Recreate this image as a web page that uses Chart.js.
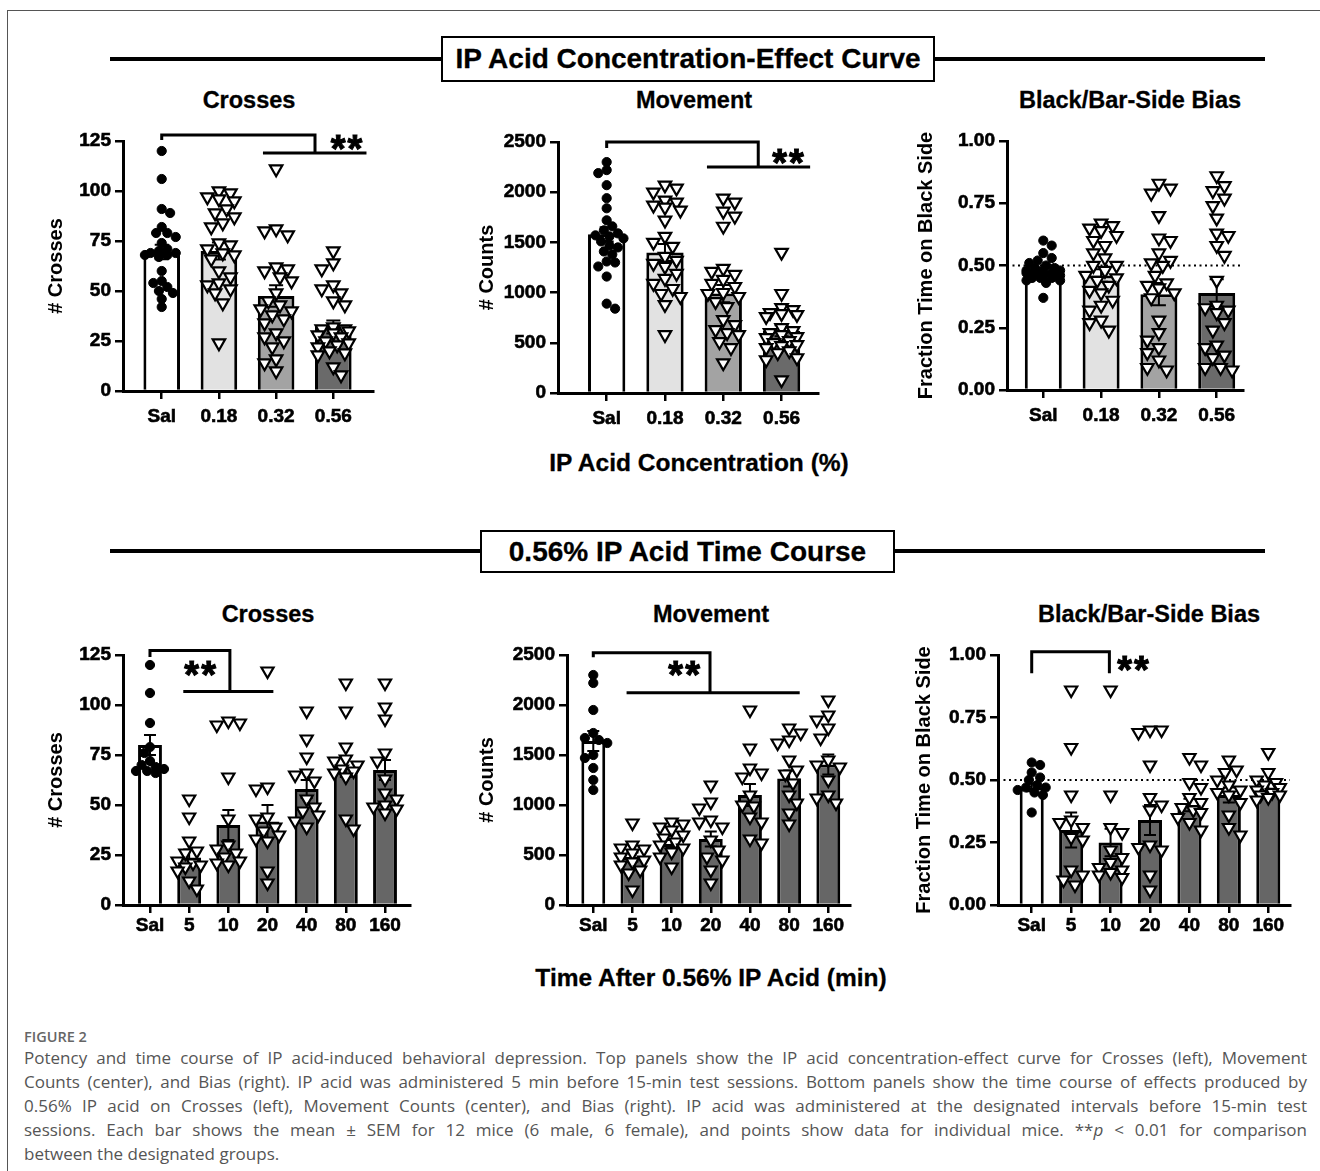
<!DOCTYPE html>
<html>
<head>
<meta charset="utf-8">
<script src="https://cdn.jsdelivr.net/npm/chart.js@4.4.1/dist/chart.umd.min.js"></script>
<style>
  body { margin: 0; background: #fff; width: 1320px; height: 1171px; position: relative; overflow: hidden;
         font-family: 'Liberation Sans', Arial, sans-serif; }
  .frame { position: absolute; left: 7px; top: 10px; width: 1330px; height: 1180px;
           border-top: 1.5px solid #555; border-left: 1.5px solid #555; }
  .rule { position: absolute; left: 110px; width: 1155px; height: 4px; background: #000; }
  .boxTitle { position: absolute; box-sizing: border-box; border: 2px solid #000; background: #fff;
              font-weight: bold; font-size: 28px; display: flex; align-items: center; justify-content: center;
              -webkit-text-stroke: 0.3px #000; }
  .lbl { position: absolute; transform: translate(-50%, -50%); font-weight: bold; white-space: nowrap; color: #000;
         -webkit-text-stroke: 0.3px #000; }
  .panelTitle { font-size: 23.5px; }
  .axisTitle { font-size: 24.5px; }
  canvas { position: absolute; }
  .figHead { position: absolute; left: 24px; top: 1027px; font-family: 'Open Sans', sans-serif; font-weight: 600;
             font-size: 14.5px; color: #666; }
  .capLine { position: absolute; left: 24px; font-family: 'Open Sans', sans-serif; font-size: 17px; color: #555;
             white-space: nowrap; line-height: 24px; }
</style>
</head>
<body>
<div class="frame"></div>

<div class="rule" style="top:57px"></div>
<div class="boxTitle" style="left:441px; top:36px; width:494px; height:46px;">IP Acid Concentration-Effect Curve</div>
<div class="lbl panelTitle" style="left:249px; top:100px;">Crosses</div>
<div class="lbl panelTitle" style="left:694px; top:100px;">Movement</div>
<div class="lbl panelTitle" style="left:1130px; top:100px;">Black/Bar-Side Bias</div>
<div class="lbl axisTitle" style="left:699px; top:463px;">IP Acid Concentration (%)</div>

<div class="rule" style="top:549px"></div>
<div class="boxTitle" style="left:480px; top:530px; width:415px; height:43px;">0.56% IP Acid Time Course</div>
<div class="lbl panelTitle" style="left:268px; top:614px;">Crosses</div>
<div class="lbl panelTitle" style="left:711px; top:614px;">Movement</div>
<div class="lbl panelTitle" style="left:1149px; top:614px;">Black/Bar-Side Bias</div>
<div class="lbl axisTitle" style="left:711px; top:978px;">Time After 0.56% IP Acid (min)</div>

<div class="figHead">FIGURE 2</div>
<div class="capLine" style="top:1046px">Potency and time course of IP acid-induced behavioral depression. Top panels show the IP acid concentration-effect curve for Crosses (left), Movement</div>
<div class="capLine" style="top:1070px">Counts (center), and Bias (right). IP acid was administered 5 min before 15-min test sessions. Bottom panels show the time course of effects produced by</div>
<div class="capLine" style="top:1094px">0.56% IP acid on Crosses (left), Movement Counts (center), and Bias (right). IP acid was administered at the designated intervals before 15-min test</div>
<div class="capLine" style="top:1118px">sessions. Each bar shows the mean ± SEM for 12 mice (6 male, 6 female), and points show data for individual mice. **<i>p</i> &lt; 0.01 for comparison</div>
<div class="capLine last" style="top:1142px">between the designated groups.</div>

<script>
// ========================================
// Data
// ========================================

const doseLabels = ['Sal', '0.18', '0.32', '0.56'];
const timeLabels = ['Sal', '5', '10', '20', '40', '80', '160'];

const crossTicks = [0, 25, 50, 75, 100, 125];
const countTicks = [0, 500, 1000, 1500, 2000, 2500];
const biasTicks = [0, 0.25, 0.5, 0.75, 1];

// Top row - concentration-effect curve
const doseCrossMean = [69.5, 70, 47.5, 32];
const doseCrossSem = [3.6, 4.2, 5.4, 3.2];
const doseCrossSal = [120, 106, 91, 89, 82, 79, 79, 77, 74, 71, 70, 69, 69, 68, 68, 67, 60, 55, 54, 52, 50, 49, 46, 42];
const doseCross018 = [100, 99, 97, 96, 95, 91, 89, 87, 84, 82, 74, 73, 71, 69, 68, 66, 60, 57, 54, 53, 51, 49, 44, 24];
const doseCross032 = [111, 81, 80, 78, 62, 61, 60, 57, 55, 49, 45, 43, 41, 40, 38, 36, 34, 29, 27, 25, 22, 16, 14, 10];
const doseCross056 = [70, 64, 61, 53, 51, 49, 45, 43, 32, 31, 31, 30, 29, 28, 27, 25, 24, 23, 22, 20, 19, 18, 12, 8];

const doseCountMean = [1580, 1400, 990, 620];
const doseCountSem = [70, 85, 85, 55];
const doseCountSal = [2300, 2220, 2190, 2070, 1940, 1840, 1720, 1660, 1620, 1590, 1570, 1560, 1540, 1510, 1470, 1450, 1410, 1380, 1310, 1300, 1260, 1160, 890, 840];
const doseCount018 = [2070, 2040, 2000, 1920, 1900, 1870, 1850, 1820, 1720, 1560, 1500, 1460, 1360, 1320, 1290, 1260, 1190, 1140, 1090, 1040, 990, 960, 880, 580];
const doseCount032 = [1940, 1900, 1810, 1760, 1660, 1240, 1210, 1180, 1130, 1090, 1060, 1000, 990, 960, 910, 860, 730, 680, 630, 600, 580, 510, 450, 300];
const doseCount056 = [1400, 990, 850, 830, 800, 790, 780, 760, 650, 620, 600, 580, 560, 550, 520, 500, 480, 470, 450, 420, 400, 350, 330, 130];

const doseBiasMean = [0.48, 0.46, 0.385, 0.39];
const doseBiasSem = [0.012, 0.025, 0.045, 0.055];
const doseBiasSal = [0.60, 0.58, 0.55, 0.53, 0.52, 0.51, 0.50, 0.49, 0.49, 0.48, 0.48, 0.48, 0.47, 0.47, 0.47, 0.46, 0.46, 0.45, 0.45, 0.45, 0.44, 0.44, 0.43, 0.37];
const doseBias018 = [0.67, 0.66, 0.65, 0.64, 0.62, 0.60, 0.58, 0.55, 0.53, 0.50, 0.50, 0.48, 0.46, 0.45, 0.44, 0.42, 0.40, 0.39, 0.36, 0.34, 0.32, 0.28, 0.27, 0.24];
const doseBias032 = [0.83, 0.81, 0.79, 0.70, 0.61, 0.60, 0.55, 0.52, 0.51, 0.50, 0.46, 0.43, 0.42, 0.41, 0.39, 0.37, 0.28, 0.23, 0.20, 0.17, 0.15, 0.12, 0.09, 0.08];
const doseBias056 = [0.86, 0.82, 0.80, 0.77, 0.74, 0.69, 0.63, 0.62, 0.58, 0.54, 0.44, 0.34, 0.33, 0.32, 0.31, 0.27, 0.24, 0.18, 0.17, 0.14, 0.13, 0.09, 0.09, 0.08];

// Bottom row - time course of 0.56% IP acid
const timeCrossMean = [80, 23.8, 40, 41.7, 58, 69, 67.5];
const timeCrossSem = [5, 4, 7.5, 8.3, 4.5, 5, 5];
const timeCrossSal = [120, 106, 91, 79, 76, 72, 70, 69, 68, 67, 67, 66];
const timeCross5 = [53, 44, 32, 27, 26, 22, 21, 20, 19, 17, 12, 8];
const timeCross10 = [92, 91, 90, 64, 43, 30, 28, 26, 24, 22, 21, 20];
const timeCross20 = [117, 59, 58, 44, 43, 39, 37, 35, 33, 32, 17, 11];
const timeCross40 = [97, 83, 74, 66, 65, 62, 53, 49, 47, 45, 42, 39];
const timeCross80 = [111, 97, 79, 73, 72, 70, 68, 67, 66, 64, 43, 38];
const timeCross160 = [111, 99, 93, 76, 72, 63, 56, 53, 50, 49, 48, 46];

const timeCountMean = [1640, 480, 610, 660, 1100, 1265, 1405];
const timeCountSem = [100, 45, 40, 75, 110, 80, 100];
const timeCountSal = [2300, 2220, 1950, 1720, 1670, 1650, 1620, 1500, 1470, 1370, 1250, 1150];
const timeCount5 = [820, 600, 570, 560, 520, 480, 450, 430, 400, 350, 320, 150];
const timeCount10 = [830, 810, 780, 750, 700, 670, 630, 600, 570, 530, 480, 380];
const timeCount20 = [1200, 1030, 970, 850, 830, 780, 650, 550, 480, 450, 350, 220];
const timeCount40 = [1950, 1570, 1370, 1320, 1280, 1100, 1000, 990, 880, 830, 660, 620];
const timeCount80 = [1770, 1720, 1650, 1620, 1450, 1350, 1310, 1220, 1100, 1020, 920, 810];
const timeCount160 = [2050, 1900, 1850, 1770, 1670, 1450, 1400, 1380, 1250, 1100, 1070, 1020];

const timeBiasMean = [0.47, 0.30, 0.25, 0.34, 0.40, 0.44, 0.47];
const timeBiasSem = [0.015, 0.07, 0.055, 0.06, 0.025, 0.03, 0.02];
const timeBiasSal = [0.57, 0.56, 0.53, 0.51, 0.50, 0.48, 0.47, 0.47, 0.46, 0.45, 0.44, 0.37];
const timeBias5 = [0.86, 0.63, 0.44, 0.34, 0.33, 0.31, 0.27, 0.26, 0.14, 0.12, 0.10, 0.08];
const timeBias10 = [0.86, 0.44, 0.31, 0.29, 0.22, 0.19, 0.17, 0.15, 0.14, 0.13, 0.12, 0.11];
const timeBias20 = [0.70, 0.70, 0.69, 0.56, 0.43, 0.40, 0.38, 0.24, 0.23, 0.22, 0.12, 0.06];
const timeBias40 = [0.59, 0.56, 0.49, 0.47, 0.43, 0.41, 0.39, 0.38, 0.37, 0.35, 0.33, 0.30];
const timeBias80 = [0.58, 0.54, 0.53, 0.50, 0.48, 0.46, 0.45, 0.44, 0.41, 0.36, 0.31, 0.28];
const timeBias160 = [0.61, 0.53, 0.50, 0.49, 0.48, 0.47, 0.46, 0.45, 0.44, 0.44, 0.43, 0.42];

// ========================================
// Styles
// ========================================
const FONT = "'Liberation Sans', Arial, sans-serif";
Chart.defaults.font.family = FONT;
Chart.defaults.color = '#000';

const doseColors = ['#ffffff', '#e2e2e2', '#a3a3a3', '#6a6a6a'];
const timeColors = ['#ffffff', '#666666', '#666666', '#666666', '#666666', '#666666', '#666666'];

const fmtInt = v => String(v);
const fmt2 = v => v.toFixed(2);

// chart area box (page px), x range in category units, significance bracket in data units
const panels = [
  { cats: doseLabels, colors: doseColors, means: doseCrossMean, sem: doseCrossSem,
    pts: [doseCrossSal, doseCross018, doseCross032, doseCross056],
    yTicks: crossTicks, yMax: 125, fmt: fmtInt, yTitle: '# Crosses',
    box: { l: 123, r: 373, t: 141, b: 391 }, xMin: -0.677, xMax: 3.694, titleX: 56,
    labelPad: 6, barPct: 0.64, tri: 7.2, spread: 0.33, cap: 7,
    bracket: [[[0, 125.5], [0, 128], [2.68, 128], [2.68, 119]], [[1.77, 119], [3.58, 119]]], star: [3.23, 124.5] },
  { cats: doseLabels, colors: doseColors, means: doseCountMean, sem: doseCountSem,
    pts: [doseCountSal, doseCount018, doseCount032, doseCount056],
    yTicks: countTicks, yMax: 2500, fmt: fmtInt, yTitle: '# Counts',
    box: { l: 558, r: 818, t: 142, b: 393 }, xMin: -0.835, xMax: 3.625, titleX: 487,
    labelPad: 6, barPct: 0.64, tri: 7.2, spread: 0.33, cap: 7,
    bracket: [[[0, 2440], [0, 2500], [2.6, 2500], [2.6, 2250]], [[1.72, 2250], [3.49, 2250]]], star: [3.11, 2360] },
  { cats: doseLabels, colors: doseColors, means: doseBiasMean, sem: doseBiasSem,
    pts: [doseBiasSal, doseBias018, doseBias032, doseBias056],
    yTicks: biasTicks, yMax: 1, fmt: fmt2, yTitle: 'Fraction Time on Black Side',
    box: { l: 1007, r: 1243, t: 141, b: 390 }, xMin: -0.628, xMax: 3.455, titleX: 926,
    labelPad: 6, barPct: 0.64, tri: 7.2, spread: 0.33, cap: 7, refLine: 0.5 },
  { cats: timeLabels, colors: timeColors, means: timeCrossMean, sem: timeCrossSem,
    pts: [timeCrossSal, timeCross5, timeCross10, timeCross20, timeCross40, timeCross80, timeCross160],
    yTicks: crossTicks, yMax: 125, fmt: fmtInt, yTitle: '# Crosses',
    box: { l: 123, r: 410, t: 655, b: 905 }, xMin: -0.689, xMax: 6.638, titleX: 56,
    labelPad: 1, barPct: 0.61, tri: 7, spread: 0.38, cap: 6,
    bracket: [[[0, 124], [0, 127.2], [2.04, 127.2], [2.04, 106.7]], [[0.85, 106.7], [3.15, 106.7]]], star: [1.28, 118.5] },
  { cats: timeLabels, colors: timeColors, means: timeCountMean, sem: timeCountSem,
    pts: [timeCountSal, timeCount5, timeCount10, timeCount20, timeCount40, timeCount80, timeCount160],
    yTicks: countTicks, yMax: 2500, fmt: fmtInt, yTitle: '# Counts',
    box: { l: 567, r: 850, t: 655, b: 905 }, xMin: -0.671, xMax: 6.554, titleX: 487,
    labelPad: 1, barPct: 0.61, tri: 7, spread: 0.38, cap: 6,
    bracket: [[[0, 2477], [0, 2523], [2.98, 2523], [2.98, 2123]], [[0.85, 2123], [5.27, 2123]]], star: [2.32, 2370] },
  { cats: timeLabels, colors: timeColors, means: timeBiasMean, sem: timeBiasSem,
    pts: [timeBiasSal, timeBias5, timeBias10, timeBias20, timeBias40, timeBias80, timeBias160],
    yTicks: biasTicks, yMax: 1, fmt: fmt2, yTitle: 'Fraction Time on Black Side',
    box: { l: 998, r: 1290, t: 655, b: 905 }, xMin: -0.855, xMax: 6.551, titleX: 924,
    labelPad: 1, barPct: 0.61, tri: 7, spread: 0.38, cap: 6, refLine: 0.5,
    bracket: [[[0, 0.927], [0, 1.013], [1.97, 1.013], [1.97, 0.927]]], star: [2.57, 0.968] }
];

// spread points sideways so markers overlap less (simple beeswarm, in px)
function swarmOffsets(vals, pyUnit, pxIndex, size, maxOff) {
  const order = vals.map((v, i) => i).sort((a, b) => vals[b] - vals[a]);
  const placed = [];
  const offs = vals.map(() => 0);
  const step = size * 0.35;
  const nMax = Math.floor(maxOff * pxIndex / step);
  order.forEach(i => {
    const py = vals[i] * pyUnit;
    let best = 0, bestCost = Infinity;
    for (let k = 0; k <= nMax; k++) {
      const cands = k === 0 ? [0] : (placed.length % 2 ? [k * step, -k * step] : [-k * step, k * step]);
      for (const ox of cands) {
        let cost = 0;
        placed.forEach(p => {
          const d = Math.hypot(ox - p.x, py - p.y);
          if (d < size) cost += size - d;
        });
        if (cost < bestCost - 1e-6) { bestCost = cost; best = ox; }
      }
      if (bestCost === 0) break;
    }
    offs[i] = best / pxIndex;
    placed.push({ x: best, y: py });
  });
  return offs;
}

// error bars, reference line, brackets and stars
function decor(p) {
  return {
    id: 'decor',
    afterDatasetDraw(chart, args) {
      if (args.meta.type !== 'bar') return;
      const { ctx, chartArea } = chart;
      const x = chart.scales.x, y = chart.scales.y;
      ctx.save();
      ctx.strokeStyle = '#000';
      if (p.refLine != null) {
        const py = y.getPixelForValue(p.refLine);
        ctx.setLineDash([2, 3.5]);
        ctx.lineWidth = 2;
        ctx.beginPath();
        ctx.moveTo(chartArea.left, py);
        ctx.lineTo(chartArea.right, py);
        ctx.stroke();
        ctx.setLineDash([]);
      }
      ctx.lineWidth = 2;
      p.means.forEach((m, i) => {
        const px = x.getPixelForValue(i);
        const hi = y.getPixelForValue(m + p.sem[i]);
        const lo = y.getPixelForValue(m - p.sem[i]);
        ctx.beginPath();
        ctx.moveTo(px, lo); ctx.lineTo(px, hi);
        ctx.moveTo(px - p.cap, hi); ctx.lineTo(px + p.cap, hi);
        ctx.moveTo(px - p.cap, lo); ctx.lineTo(px + p.cap, lo);
        ctx.stroke();
      });
      ctx.restore();
    },
    afterDraw(chart) {
      if (!p.bracket) return;
      const { ctx } = chart;
      const x = chart.scales.x, y = chart.scales.y;
      ctx.save();
      ctx.strokeStyle = '#000';
      ctx.lineWidth = 3;
      ctx.lineJoin = 'miter';
      p.bracket.forEach(line => {
        ctx.beginPath();
        line.forEach(([a, b], k) => {
          const px = x.getPixelForValue(a), py = y.getPixelForValue(b);
          if (k) ctx.lineTo(px, py); else ctx.moveTo(px, py);
        });
        ctx.stroke();
      });
      ctx.fillStyle = '#000';
      ctx.strokeStyle = '#000';
      ctx.lineWidth = 1;
      ctx.font = 'bold 38px ' + FONT;
      ctx.letterSpacing = '2px';
      ctx.textAlign = 'center';
      ctx.textBaseline = 'alphabetic';
      const sx = x.getPixelForValue(p.star[0]) + 1, sy = y.getPixelForValue(p.star[1]) + 20;
      ctx.fillText('**', sx, sy);
      ctx.strokeText('**', sx, sy);
      ctx.restore();
    }
  };
}

function makePanel(p) {
  const PT = 45, HX = 45, PR = 22;
  const WY = p.box.l - (p.titleX - 12);
  const cw = p.box.r - p.box.l, ch = p.box.b - p.box.t;
  const canvas = document.createElement('canvas');
  canvas.width = WY + cw + PR;
  canvas.height = PT + ch + HX;
  canvas.style.left = (p.box.l - WY) + 'px';
  canvas.style.top = (p.box.t - PT) + 'px';
  document.body.appendChild(canvas);

  const pyUnit = ch / p.yMax;
  const pxIndex = cw / (p.xMax - p.xMin);

  const datasets = [{
    type: 'bar',
    data: p.means.map((m, i) => ({ x: i, y: m })),
    backgroundColor: p.colors,
    borderColor: '#000',
    borderWidth: 3,
    borderSkipped: 'start',
    barPercentage: p.barPct,
    categoryPercentage: 1,
    order: 2
  }];

  p.pts.forEach((vals, gi) => {
    const sal = gi === 0;
    const offs = swarmOffsets(vals, pyUnit, pxIndex, sal ? 8 : 11, p.spread);
    datasets.push({
      type: 'scatter',
      data: vals.map((v, k) => ({ x: gi + offs[k], y: v })),
      pointStyle: sal ? 'circle' : 'triangle',
      pointRotation: sal ? 0 : 180,
      pointRadius: sal ? 4.6 : p.tri,
      pointBackgroundColor: sal ? '#000' : '#fff',
      pointBorderColor: '#000',
      pointBorderWidth: sal ? 1 : 2.2,
      showLine: false,
      clip: false,
      order: 1
    });
  });

  const tickFont = { size: 19, weight: 'bold' };

  new Chart(canvas, {
    type: 'bar',
    data: { datasets },
    plugins: [decor(p)],
    options: {
      responsive: false,
      animation: false,
      devicePixelRatio: 1,
      events: [],
      layout: { padding: { top: PT, right: PR, left: 0, bottom: 0 } },
      plugins: { legend: { display: false }, tooltip: { enabled: false }, title: { display: false } },
      scales: {
        x: {
          type: 'linear',
          min: p.xMin,
          max: p.xMax,
          offset: false,
          afterBuildTicks: s => { s.ticks = p.cats.map((c, i) => ({ value: i })); },
          afterFit: s => { s.height = HX; },
          ticks: { callback: v => p.cats[v], font: tickFont, color: '#000', textStrokeColor: '#000', textStrokeWidth: 0.6,
                   padding: p.labelPad, autoSkip: false, maxRotation: 0 },
          grid: { drawOnChartArea: false, offset: false, color: '#000', lineWidth: 2.5, tickLength: 8 },
          border: { color: '#000', width: 3 }
        },
        y: {
          type: 'linear',
          min: 0,
          max: p.yMax,
          afterBuildTicks: s => { s.ticks = p.yTicks.map(v => ({ value: v })); },
          afterFit: s => { s.width = WY; },
          ticks: { callback: v => p.fmt(v), font: tickFont, color: '#000', textStrokeColor: '#000', textStrokeWidth: 0.6,
                   padding: 4 },
          grid: { drawOnChartArea: false, color: '#000', lineWidth: 2.5, tickLength: 8 },
          border: { color: '#000', width: 3 },
          title: { display: true, text: p.yTitle, color: '#000', font: { size: 20, weight: 'bold' },
                   padding: { top: 0, bottom: 0 } }
        }
      }
    }
  });
}

window.addEventListener('DOMContentLoaded', function () {
  panels.forEach(makePanel);

  // stretch caption lines to the full text width, like justified text
  document.querySelectorAll('.capLine').forEach(el => {
    if (el.classList.contains('last')) return;
    const spaces = (el.textContent.match(/ /g) || []).length;
    const extra = 1283 - el.getBoundingClientRect().width;
    el.style.wordSpacing = (extra / spaces) + 'px';
  });
});
</script>
</body>
</html>
